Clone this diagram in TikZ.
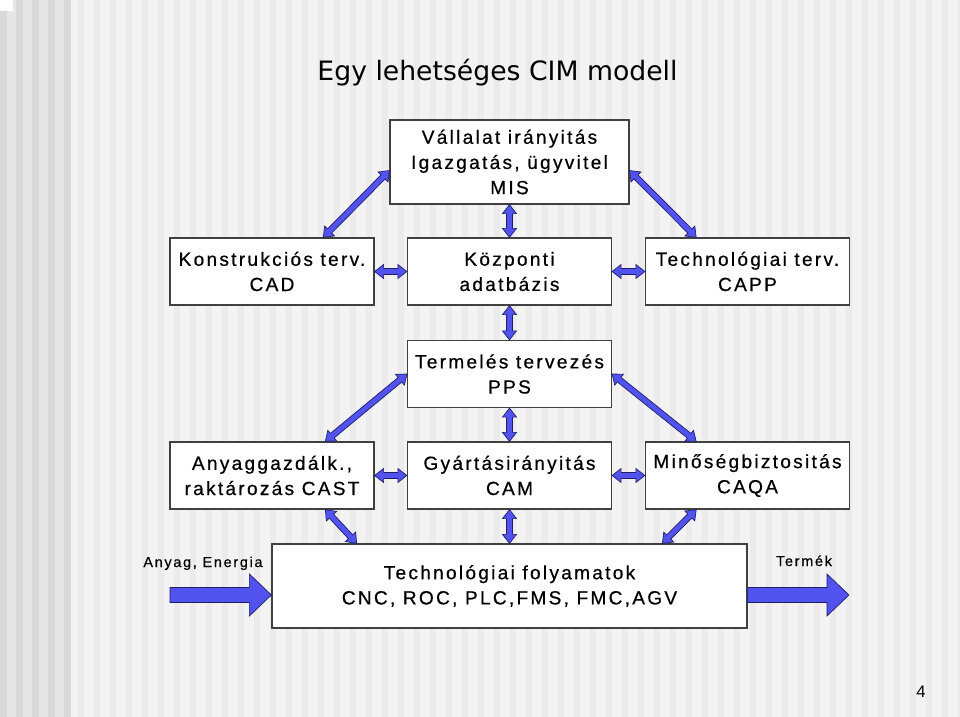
\documentclass[tikz,border=0pt]{standalone}
\usepackage{fontspec}
\setmainfont{Liberation Sans}
\newfontfamily\titlefont{DejaVu Sans}
\newfontfamily\boxfont[LetterSpace=12,FakeBold=0.6]{Liberation Sans}
\usetikzlibrary{calc}
\definecolor{bgA}{HTML}{F3F3F3}
\definecolor{bgB}{HTML}{EBEBEB}
\definecolor{bandA}{HTML}{E6E6E6}
\definecolor{bandB}{HTML}{D9D9D9}
\definecolor{arrfill}{HTML}{5252EE}
\definecolor{arrline}{HTML}{1E1E66}
\definecolor{boxline}{HTML}{404040}
\tikzset{
  box/.style={draw=boxline, line width=0.9pt, fill=white, align=center,
    font=\boxfont\fontsize{14.3}{18.9}\selectfont, inner sep=0pt},
  smallbox/.style={box, minimum width=153pt, minimum height=50.25pt},
  fat/.style={draw=arrline, line width=0.5pt, fill=arrfill,
    to path={let \p1=(\tikztostart), \p2=(\tikztotarget),
      \n1={atan2(\y2-\y1,\x2-\x1)} in
      (\p1) -- ($(\p1)+(\n1:6.75pt)+(\n1+90:5.25pt)$)
      -- ($(\p1)+(\n1:6.75pt)+(\n1+90:2.2pt)$)
      -- ($(\p2)+(\n1+180:6.75pt)+(\n1+90:2.2pt)$)
      -- ($(\p2)+(\n1+180:6.75pt)+(\n1+90:5.25pt)$)
      -- (\p2)
      -- ($(\p2)+(\n1+180:6.75pt)+(\n1-90:5.25pt)$)
      -- ($(\p2)+(\n1+180:6.75pt)+(\n1-90:2.2pt)$)
      -- ($(\p1)+(\n1:6.75pt)+(\n1-90:2.2pt)$)
      -- ($(\p1)+(\n1:6.75pt)+(\n1-90:5.25pt)$)
      -- cycle}},
  big/.style={draw=arrline, line width=0.5pt, fill=arrfill,
    to path={let \p1=(\tikztostart), \p2=(\tikztotarget),
      \n1={atan2(\y2-\y1,\x2-\x1)} in
      ($(\p1)+(\n1+90:5.6pt)$)
      -- ($(\p2)+(\n1+180:16.5pt)+(\n1+90:5.6pt)$)
      -- ($(\p2)+(\n1+180:16.5pt)+(\n1+90:15.75pt)$)
      -- (\p2)
      -- ($(\p2)+(\n1+180:16.5pt)+(\n1-90:15.75pt)$)
      -- ($(\p2)+(\n1+180:16.5pt)+(\n1-90:5.6pt)$)
      -- ($(\p1)+(\n1-90:5.6pt)$)
      -- cycle}},
  lbl/.style={font=\boxfont\fontsize{10.8}{13}\selectfont, inner sep=0pt}
}
\begin{document}
\begin{tikzpicture}[x=0.75pt,y=-0.75pt]
% background
\useasboundingbox (0,0) rectangle (960,717);
\fill[bgA] (0,0) rectangle (960,717);
\foreach \i in {0,...,59} {
  \fill[bgB] (70+\i*16+8,0) rectangle (70+\i*16+14,717);
}
\fill[bandA] (0,0) rectangle (70,717);
\foreach \i in {0,...,4} {
  \fill[bandB] (\i*16,0) rectangle (\i*16+7,717);
}
\fill[white] (0,0) rectangle (13,11);

% title
\node[font=\titlefont\fontsize{20}{24}\selectfont, inner sep=0pt] (title) at (497.5,73) {Egy lehetséges CIM modell};

% boxes
\node[box, minimum width=179.25pt, minimum height=63pt] (mis) at (509.5,162) {Vállalat irányitás\\Igazgatás, ügyvitel\\MIS};
\node[smallbox] (cad) at (272,271.5) {Konstrukciós terv.\\CAD};
\node[smallbox] (db) at (509.5,271.5) {Központi\\adatbázis};
\node[smallbox] (capp) at (747.5,271.5) {Technológiai terv.\\CAPP};
\node[smallbox] (pps) at (509.5,374) {Termelés tervezés\\PPS};
\node[smallbox] (cast) at (272,475.5) {Anyaggazdálk.,\\raktározás CAST};
\node[smallbox] (cam) at (509.5,475.5) {Gyártásirányitás\\CAM};
\node[smallbox] (caqa) at (747.5,475.5) {Minőségbiztositás\\CAQA};
\node[box, minimum width=356.25pt, minimum height=63pt] (tf) at (509.5,586) {Technológiai folyamatok\\CNC, ROC, PLC,FMS, FMC,AGV};

% labels
\node[lbl, anchor=base] (inlbl) at (203,567) {Anyag, Energia};
\node[lbl, anchor=base] (outlbl) at (804,566) {Termék};
\node[font=\fontsize{12.5}{15}\selectfont, inner sep=0pt] (pg) at (921,692) {4};

% small arrows
\draw[fat] ($(cad.north west)!0.75!(cad.north east)$) to ($(mis.north west)!0.6!(mis.south west)$);
\draw[fat] ($(mis.north east)!0.6!(mis.south east)$) to ($(capp.north west)!0.25!(capp.north east)$);
\draw[fat] (mis.south) to (db.north);
\draw[fat] (cad.east) to (db.west);
\draw[fat] (db.east) to (capp.west);
\draw[fat] (db.south) to (pps.north);
\draw[fat] (pps.west) to ($(cast.north west)!0.76!(cast.north east)$);
\draw[fat] (pps.east) to ($(caqa.north west)!0.25!(caqa.north east)$);
\draw[fat] (pps.south) to (cam.north);
\draw[fat] (cast.east) to (cam.west);
\draw[fat] (cam.east) to (caqa.west);
\draw[fat] ($(cast.south west)!0.76!(cast.south east)$) to ($(tf.north west)!0.179!(tf.north east)$);
\draw[fat] ($(caqa.south west)!0.25!(caqa.south east)$) to ($(tf.north west)!0.821!(tf.north east)$);
\draw[fat] (cam.south) to (tf.north);

% big arrows
\coordinate (ain) at (170,595);
\coordinate (aout) at (849,595);
\draw[big] (ain) to (ain -| tf.west);
\draw[big] (aout -| tf.east) to (aout);
\end{tikzpicture}
\end{document}
